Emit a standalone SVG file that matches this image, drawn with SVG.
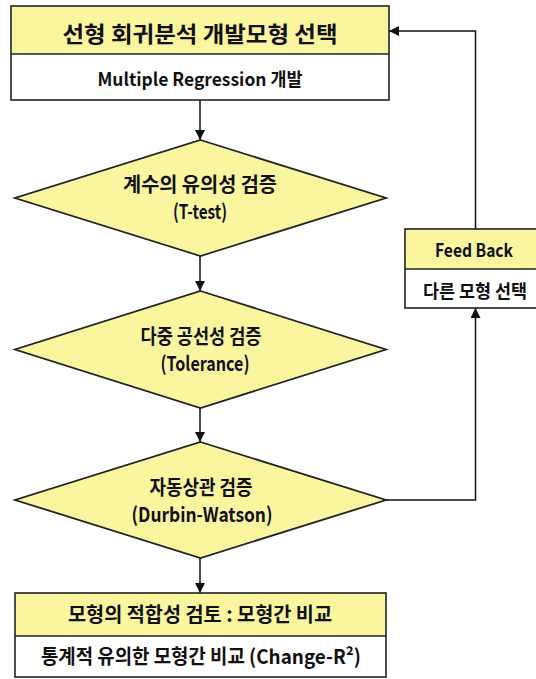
<svg xmlns="http://www.w3.org/2000/svg" width="536" height="679" viewBox="0 0 536 679">
<style>
.yl{fill:#FAF6A0;stroke:none}
.wh{fill:#FFFFFF;stroke:none}
.bd{fill:none;stroke:#222;stroke-width:1.6}
.dv{stroke:#222;stroke-width:1.3}
.dm{fill:#FAF6A0;stroke:#222;stroke-width:1.8;stroke-linejoin:miter}
.t{font-family:"Noto Sans CJK KR","Noto Sans",sans-serif;font-weight:bold;fill:#111;text-anchor:middle}
.cn{fill:none;stroke:#111;stroke-width:1.5}
</style>
<defs>
<marker id="ah" viewBox="0 0 10 10" refX="10" refY="5" markerWidth="10" markerHeight="10" markerUnits="userSpaceOnUse" orient="auto">
<path d="M0,0 L10,5 L0,10 z" fill="#111"/>
</marker>
</defs>
<rect width="536" height="679" fill="#FFFFFF"/>
<g id="connectors">
<line class="cn" x1="200" y1="100" x2="200" y2="140" marker-end="url(#ah)"/>
<line class="cn" x1="200" y1="256" x2="200" y2="291" marker-end="url(#ah)"/>
<line class="cn" x1="200" y1="408" x2="200" y2="442" marker-end="url(#ah)"/>
<line class="cn" x1="200" y1="558" x2="200" y2="593" marker-end="url(#ah)"/>
<polyline class="cn" points="386,500 475.5,500 475.5,308" marker-end="url(#ah)"/>
<polyline class="cn" points="475.5,229 475.5,31 389,31" marker-end="url(#ah)"/>
</g>
<g id="node-select">
<rect class="yl" x="11" y="6" width="378" height="48"/>
<rect class="wh" x="11" y="54" width="378" height="46"/>
<line class="dv" x1="11" y1="54" x2="389" y2="54"/>
<rect class="bd" x="11" y="6" width="378" height="94"/>
<text class="t" x="200" y="42" font-size="22" textLength="275" lengthAdjust="spacingAndGlyphs">선형 회귀분석 개발모형 선택</text>
<text class="t" x="200" y="86" font-size="18" textLength="205" lengthAdjust="spacingAndGlyphs">Multiple Regression 개발</text>
</g>
<g id="node-ttest">
<polygon class="dm" points="200.5,140 386,198 200.5,256 15,198"/>
<text class="t" x="200" y="192" font-size="20" textLength="154" lengthAdjust="spacingAndGlyphs">계수의 유의성 검증</text>
<text class="t" x="200" y="219" font-size="20" textLength="54" lengthAdjust="spacingAndGlyphs">(T-test)</text>
</g>
<g id="node-tolerance">
<polygon class="dm" points="200.5,291 386,349.5 200.5,408 15,349.5"/>
<text class="t" x="201" y="344" font-size="20" textLength="121" lengthAdjust="spacingAndGlyphs">다중 공선성 검증</text>
<text class="t" x="205" y="371" font-size="20" textLength="89" lengthAdjust="spacingAndGlyphs">(Tolerance)</text>
</g>
<g id="node-durbin">
<polygon class="dm" points="200.5,442 386,500 200.5,558 15,500"/>
<text class="t" x="201" y="495" font-size="20" textLength="103" lengthAdjust="spacingAndGlyphs">자동상관 검증</text>
<text class="t" x="202" y="522" font-size="20" textLength="141" lengthAdjust="spacingAndGlyphs">(Durbin-Watson)</text>
</g>
<g id="node-feedback">
<rect class="yl" x="405" y="229" width="140" height="40"/>
<rect class="wh" x="405" y="269" width="140" height="39"/>
<line class="dv" x1="405" y1="269" x2="545" y2="269"/>
<rect class="bd" x="405" y="229" width="140" height="79"/>
<text class="t" x="474" y="257" font-size="18" textLength="78" lengthAdjust="spacingAndGlyphs">Feed Back</text>
<text class="t" x="475" y="298" font-size="18" textLength="104" lengthAdjust="spacingAndGlyphs">다른 모형 선택</text>
</g>
<g id="node-compare">
<rect class="yl" x="15" y="593" width="371" height="43"/>
<rect class="wh" x="15" y="636" width="371" height="41"/>
<line class="dv" x1="15" y1="636" x2="386" y2="636"/>
<rect class="bd" x="15" y="593" width="371" height="84"/>
<text class="t" x="200" y="622" font-size="20" textLength="264" lengthAdjust="spacingAndGlyphs">모형의 적합성 검토 : 모형간 비교</text>
<text class="t" x="201" y="664" font-size="20" textLength="320" lengthAdjust="spacingAndGlyphs">통계적 유의한 모형간 비교 (Change-R²)</text>
</g>
</svg>
